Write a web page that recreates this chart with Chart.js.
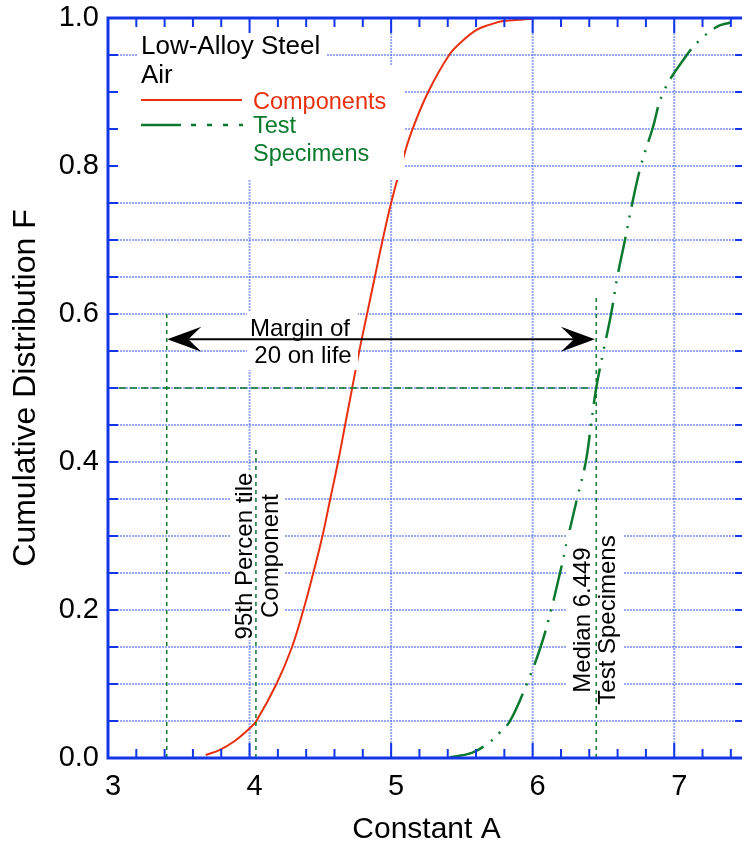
<!DOCTYPE html>
<html>
<head>
<meta charset="utf-8">
<title>Cumulative Distribution F</title>
<script src="https://cdn.jsdelivr.net/npm/chart.js@4.4.0/dist/chart.umd.min.js"></script>
<style>
  html, body { margin: 0; padding: 0; background: #fff; overflow: hidden; }
  #wrap { width: 750px; height: 845px; }
</style>
</head>
<body>
<div id="wrap"><canvas id="chart" width="750" height="845"></canvas></div>
<script>
// === DATA ===

// Components curve: Constant A vs F
const componentsA = [3.69, 3.79, 3.895, 4.00, 4.048, 4.19, 4.30, 4.38, 4.45, 4.515, 4.57, 4.625, 4.675, 4.725,
  4.775, 4.83, 4.885, 4.94, 5.00, 5.07, 5.144, 5.262, 5.41, 5.498, 5.604, 5.698, 5.792, 5.933, 6.0];
const componentsF = [0.004, 0.011, 0.023, 0.040, 0.05, 0.10, 0.15, 0.20, 0.25, 0.30, 0.35, 0.40, 0.45, 0.50,
  0.55, 0.60, 0.65, 0.70, 0.75, 0.80, 0.846, 0.90, 0.95, 0.968, 0.984, 0.991, 0.996, 0.998, 0.999];

// Test specimens curve
const specimensA = [5.415, 5.57, 5.686, 5.77, 5.84, 5.958, 6.056, 6.13, 6.193, 6.252, 6.313, 6.375, 6.412, 6.449,
  6.50, 6.554, 6.598, 6.652, 6.704, 6.764, 6.846, 6.924, 7.089, 7.18, 7.30, 7.395];
const specimensF = [0.001, 0.007, 0.02, 0.035, 0.05, 0.10, 0.15, 0.20, 0.25, 0.30, 0.35, 0.40, 0.45, 0.50,
  0.55, 0.60, 0.65, 0.70, 0.75, 0.80, 0.85, 0.90, 0.95, 0.97, 0.988, 0.994];

// axes
const xTicks = [3, 4, 5, 6, 7];
const yTicks = [0, 0.2, 0.4, 0.6, 0.8, 1.0];
const xGridLines = [4, 5, 6, 7];

// reference lines (dotted green) and the margin arrow
const refLineA = [3.415, 4.045, 6.449];
const refLineTop = [0.605, 0.42, 0.627];
const medianF = 0.5;
const medianLineEnd = 6.42;
const arrowF = 0.566;
const arrowFrom = 3.419;
const arrowTo = 6.44;

// === STYLE ===
const FONT = "'Liberation Sans', Arial, Helvetica, sans-serif";
const AXIS = '#1236e8';
const GRID = 'rgba(80,110,240,0.6)';
const RED = '#e8300f';
const GREEN = '#0b7a2e';

Chart.defaults.font.family = FONT;

function pts(xs, ys) {
  return xs.map((v, i) => ({ x: v, y: ys[i] }));
}

function whiteBox(ctx, x, y, w, h) {
  ctx.fillStyle = '#fff';
  ctx.fillRect(x, y, w, h);
}

function rotText(ctx, text, x, y) {
  ctx.save();
  ctx.translate(x, y);
  ctx.rotate(-Math.PI / 2);
  ctx.fillText(text, 0, 0);
  ctx.restore();
}

function arrowHead(ctx, tipX, y, dir) {
  ctx.beginPath();
  ctx.moveTo(tipX, y);
  ctx.lineTo(tipX - dir * 34, y - 12.5);
  ctx.lineTo(tipX - dir * 21, y);
  ctx.lineTo(tipX - dir * 34, y + 12.5);
  ctx.closePath();
  ctx.fill();
}

// === PLUGIN: grid, frame, annotations ===
const decor = {
  id: 'decor',
  beforeDatasetsDraw(chart) {
    const { ctx, chartArea: a, scales: { x, y } } = chart;
    ctx.save();
    ctx.strokeStyle = GRID;
    ctx.lineWidth = 2;
    ctx.setLineDash([2, 1]);
    for (let i = 1; i < 20; i++) {
      const py = y.getPixelForValue(i * 0.05);
      ctx.beginPath();
      ctx.moveTo(a.left, py);
      ctx.lineTo(a.right, py);
      ctx.stroke();
    }
    xGridLines.forEach(v => {
      const px = x.getPixelForValue(v);
      ctx.beginPath();
      ctx.moveTo(px, a.top);
      ctx.lineTo(px, a.bottom);
      ctx.stroke();
    });
    ctx.restore();
  },
  afterDatasetsDraw(chart) {
    const { ctx, chartArea: a, scales: { x, y } } = chart;
    ctx.save();

    // white backgrounds behind texts
    whiteBox(ctx, 138, 22, 189, 44);
    whiteBox(ctx, 110, 66, 294, 114);
    whiteBox(ctx, 247, 312, 111, 58);
    whiteBox(ctx, 231, 470, 54, 170);
    whiteBox(ctx, 567, 530, 56, 175);

    // dotted reference lines
    ctx.strokeStyle = GREEN;
    ctx.lineWidth = 1.5;
    ctx.setLineDash([4, 4]);
    refLineA.forEach((v, i) => {
      const px = x.getPixelForValue(v);
      ctx.beginPath();
      ctx.moveTo(px, y.getPixelForValue(0));
      ctx.lineTo(px, y.getPixelForValue(refLineTop[i]));
      ctx.stroke();
    });
    ctx.setLineDash([7, 4]);
    ctx.beginPath();
    ctx.moveTo(x.getPixelForValue(3), y.getPixelForValue(medianF));
    ctx.lineTo(x.getPixelForValue(medianLineEnd), y.getPixelForValue(medianF));
    ctx.stroke();
    ctx.setLineDash([]);

    // legend
    ctx.fillStyle = '#000';
    ctx.font = '26px ' + FONT;
    ctx.textAlign = 'left';
    ctx.textBaseline = 'alphabetic';
    ctx.fillText('Low-Alloy Steel', 141, 54);
    ctx.fillText('Air', 141, 83);
    ctx.strokeStyle = RED;
    ctx.lineWidth = 2;
    ctx.beginPath();
    ctx.moveTo(141, 100);
    ctx.lineTo(242, 100);
    ctx.stroke();
    ctx.strokeStyle = GREEN;
    ctx.lineWidth = 2.5;
    ctx.setLineDash([40, 10, 5, 11, 5, 11, 5, 11, 5, 20]);
    ctx.beginPath();
    ctx.moveTo(141, 125);
    ctx.lineTo(243, 125);
    ctx.stroke();
    ctx.setLineDash([]);
    ctx.font = '23.5px ' + FONT;
    ctx.fillStyle = RED;
    ctx.fillText('Components', 253, 109);
    ctx.fillStyle = GREEN;
    ctx.fillText('Test', 253, 133);
    ctx.fillText('Specimens', 253, 161);

    // annotation texts
    ctx.fillStyle = '#000';
    ctx.font = '24px ' + FONT;
    ctx.textAlign = 'center';
    ctx.fillText('Margin of', 300, 336);
    ctx.fillText('20 on life', 303, 363);
    rotText(ctx, '95th Percen tile', 251.5, 556);
    rotText(ctx, 'Component', 277.5, 556);
    rotText(ctx, 'Median 6.449', 590, 620);
    rotText(ctx, 'Test Specimens', 615, 620);

    // margin arrow
    const ay = y.getPixelForValue(arrowF);
    const ax1 = x.getPixelForValue(arrowFrom);
    const ax2 = x.getPixelForValue(arrowTo);
    ctx.strokeStyle = '#000';
    ctx.fillStyle = '#000';
    ctx.lineWidth = 2;
    ctx.beginPath();
    ctx.moveTo(ax1 + 21, ay);
    ctx.lineTo(ax2 - 21, ay);
    ctx.stroke();
    arrowHead(ctx, ax1, ay, -1);
    arrowHead(ctx, ax2, ay, 1);

    // frame and inward ticks
    ctx.strokeStyle = AXIS;
    ctx.lineWidth = 2;
    for (let i = 0; i <= 20; i++) {
      const py = y.getPixelForValue(i * 0.05);
      ctx.beginPath();
      ctx.moveTo(a.left, py);
      ctx.lineTo(a.left + 10, py);
      ctx.moveTo(a.right, py);
      ctx.lineTo(a.right - 10, py);
      ctx.stroke();
    }
    for (let i = 0; i <= 22; i++) {
      const v = 3 + i * 0.2;
      const px = x.getPixelForValue(v);
      const len = (i % 5 === 0) ? 15 : 9;
      ctx.beginPath();
      ctx.moveTo(px, a.bottom);
      ctx.lineTo(px, a.bottom - len);
      ctx.moveTo(px, a.top);
      ctx.lineTo(px, a.top + len);
      ctx.stroke();
    }
    ctx.lineWidth = 3;
    ctx.strokeRect(a.left, a.top, a.right - a.left, a.bottom - a.top);
    ctx.restore();
  }
};

// === CHART ===
new Chart(document.getElementById('chart'), {
  type: 'line',
  data: {
    datasets: [
      {
        label: 'Components',
        data: pts(componentsA, componentsF),
        borderColor: RED,
        borderWidth: 2,
        pointRadius: 0,
        tension: 0.4,
        fill: false
      },
      {
        label: 'Test Specimens',
        data: pts(specimensA, specimensF),
        borderColor: GREEN,
        borderWidth: 2.5,
        borderDash: [36, 9, 2, 9, 2, 9],
        pointRadius: 0,
        tension: 0.4,
        fill: false
      }
    ]
  },
  options: {
    responsive: false,
    animation: false,
    devicePixelRatio: 1,
    layout: { padding: { top: 18, right: 5, left: 0, bottom: 0 } },
    plugins: { legend: { display: false }, tooltip: { enabled: false } },
    scales: {
      x: {
        type: 'linear',
        min: 3,
        max: 7.5,
        grid: { display: false, drawTicks: false },
        border: { display: false },
        afterBuildTicks: s => { s.ticks = xTicks.map(v => ({ value: v })); },
        afterFit: s => { s.height = 87; s.paddingLeft = 0; s.paddingRight = 0; },
        ticks: { color: '#000', font: { size: 29 }, padding: 12, labelOffset: 5, maxRotation: 0 },
        title: { display: true, text: 'Constant A', color: '#000', font: { size: 30, lineHeight: 1 }, padding: 0 }
      },
      y: {
        type: 'linear',
        min: 0,
        max: 1,
        grid: { display: false, drawTicks: false },
        border: { display: false },
        afterBuildTicks: s => { s.ticks = yTicks.map(v => ({ value: v })); },
        afterFit: s => { s.width = 108; s.paddingTop = 0; s.paddingBottom = 0; },
        ticks: { color: '#000', font: { size: 29 }, padding: 9, callback: v => v.toFixed(1) },
        title: { display: true, text: 'Cumulative Distribution F', color: '#000', font: { size: 32, lineHeight: 1 }, padding: { top: 10, bottom: 0 } }
      }
    }
  },
  plugins: [decor]
});
</script>
</body>
</html>
